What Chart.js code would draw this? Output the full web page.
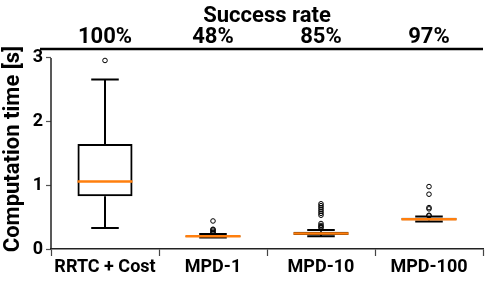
<!DOCTYPE html>
<html>
<head>
<meta charset="utf-8">
<script src="https://cdn.jsdelivr.net/npm/chart.js@4.4.1/dist/chart.umd.min.js"></script>
<style>
  html, body { margin: 0; padding: 0; background: #fff; }
  #wrap { width: 489px; height: 282px; }
</style>
</head>
<body>
<div id="wrap"><canvas id="c"></canvas></div>
<script>
"use strict";
// categories + axis labels
const labels = ["RRTC + Cost", "MPD-1", "MPD-10", "MPD-100"];
const successRates = ["100%", "48%", "85%", "97%"];
const yTicks = [0, 1, 2, 3];

// box stats per category
const whiskerLow = [0.33, 0.18, 0.2, 0.43];
const q1 = [0.83, 0.19, 0.22, 0.45];
const median = [1.06, 0.2, 0.245, 0.467];
const q3 = [1.65, 0.21, 0.27, 0.49];
const whiskerHigh = [2.66, 0.235, 0.3, 0.51];

// outliers per category
const outliers = [
  [2.96],
  [0.25, 0.26, 0.28, 0.3, 0.31, 0.44],
  [0.33, 0.35, 0.37, 0.4, 0.53, 0.56, 0.59, 0.62, 0.65, 0.68, 0.71],
  [0.52, 0.53, 0.63, 0.65, 0.86, 0.98],
];

const fontFam = "Roboto, 'DejaVu Sans', sans-serif";

let outlierPoints = [];
outliers.forEach((arr, i) => {
  arr.forEach((v) => outlierPoints.push({ x: labels[i], y: v }));
});

// whiskers + median drawn with the chart's scales
const boxExtras = {
  id: "boxExtras",
  afterDatasetsDraw(chart) {
    const ctx = chart.ctx;
    const x = chart.scales.x;
    const y = chart.scales.y;
    const meta = chart.getDatasetMeta(0);
    ctx.save();
    labels.forEach((l, i) => {
      const bar = meta.data[i];
      const cx = x.getPixelForValue(i);
      const half = bar.width / 2;
      const cap = half / 2;
      ctx.strokeStyle = "#000";
      ctx.lineWidth = 2;
      ctx.beginPath();
      ctx.moveTo(cx, y.getPixelForValue(q3[i]));
      ctx.lineTo(cx, y.getPixelForValue(whiskerHigh[i]));
      ctx.moveTo(cx, y.getPixelForValue(q1[i]));
      ctx.lineTo(cx, y.getPixelForValue(whiskerLow[i]));
      ctx.moveTo(cx - cap, y.getPixelForValue(whiskerHigh[i]));
      ctx.lineTo(cx + cap, y.getPixelForValue(whiskerHigh[i]));
      ctx.moveTo(cx - cap, y.getPixelForValue(whiskerLow[i]));
      ctx.lineTo(cx + cap, y.getPixelForValue(whiskerLow[i]));
      ctx.stroke();
      ctx.strokeStyle = "#ff7f0e";
      ctx.lineWidth = 2.5;
      ctx.beginPath();
      ctx.moveTo(cx - half, y.getPixelForValue(median[i]));
      ctx.lineTo(cx + half, y.getPixelForValue(median[i]));
      ctx.stroke();
    });
    ctx.restore();
  },
};

// spines: y line only over the tick range, top line sticking out left
const spines = {
  id: "spines",
  afterDraw(chart) {
    const ctx = chart.ctx;
    const y = chart.scales.y;
    const area = chart.chartArea;
    ctx.save();
    ctx.strokeStyle = "#222";
    ctx.lineWidth = 1.5;
    ctx.beginPath();
    ctx.moveTo(area.left, y.getPixelForValue(yTicks[yTicks.length - 1]));
    ctx.lineTo(area.left, y.getPixelForValue(yTicks[0]));
    ctx.stroke();
    ctx.strokeStyle = "#000";
    ctx.lineWidth = 2.5;
    ctx.beginPath();
    ctx.moveTo(area.left - 11, area.top);
    ctx.lineTo(area.right, area.top);
    ctx.stroke();
    ctx.restore();
  },
};

const chart = new Chart(document.getElementById("c"), {
  data: {
    labels: labels,
    datasets: [
      {
        type: "bar",
        data: labels.map((l, i) => [q1[i], q3[i]]),
        backgroundColor: "rgba(0,0,0,0)",
        borderColor: "#000",
        borderWidth: 2,
        borderSkipped: false,
        barPercentage: 0.51,
        categoryPercentage: 1,
        xAxisID: "x",
      },
      {
        type: "line",
        data: outlierPoints,
        showLine: false,
        pointRadius: 2.3,
        pointBorderWidth: 1,
        pointBorderColor: "#000",
        pointBackgroundColor: "rgba(255,255,255,0)",
        xAxisID: "x",
      },
    ],
  },
  options: {
    responsive: true,
    maintainAspectRatio: false,
    animation: false,
    layout: { padding: { right: 6, left: 0, top: 0, bottom: 0 } },
    plugins: {
      legend: { display: false },
      tooltip: { enabled: false },
    },
    scales: {
      x: {
        type: "category",
        position: "bottom",
        offset: true,
        grid: { drawOnChartArea: false, tickLength: 7, tickColor: "#444", tickWidth: 1.2 },
        border: { color: "#222", width: 1.5 },
        ticks: { color: "#000", font: { family: fontFam, size: 18, weight: "bold" }, padding: 1 },
        afterFit: (s) => { s.height = 33; },
      },
      x2: {
        type: "category",
        position: "top",
        labels: successRates,
        offset: true,
        grid: { display: false, drawTicks: false },
        border: { display: false },
        ticks: { color: "#000", font: { family: fontFam, size: 22, weight: "bold" }, padding: -2 },
        title: {
          display: true,
          text: "Success rate",
          color: "#000",
          font: { family: fontFam, size: 22, weight: "bold" },
          padding: { top: 3, bottom: 0 },
        },
        afterFit: (s) => { s.height = 49; },
      },
      y: {
        min: 0,
        max: 3.14,
        grid: { drawOnChartArea: false, tickLength: 5, tickColor: "#555", tickWidth: 1.2 },
        border: { display: false },
        ticks: { color: "#000", font: { family: fontFam, size: 18, weight: "bold" }, padding: 3 },
        afterBuildTicks: (s) => { s.ticks = yTicks.map((v) => ({ value: v })); },
        title: {
          display: true,
          text: "Computation time [s]",
          color: "#000",
          font: { family: fontFam, size: 22, weight: "bold" },
          padding: { top: 0, bottom: 0 },
        },
        afterFit: (s) => { s.width = 51; },
      },
    },
  },
  plugins: [boxExtras, spines],
});
</script>
</body>
</html>
